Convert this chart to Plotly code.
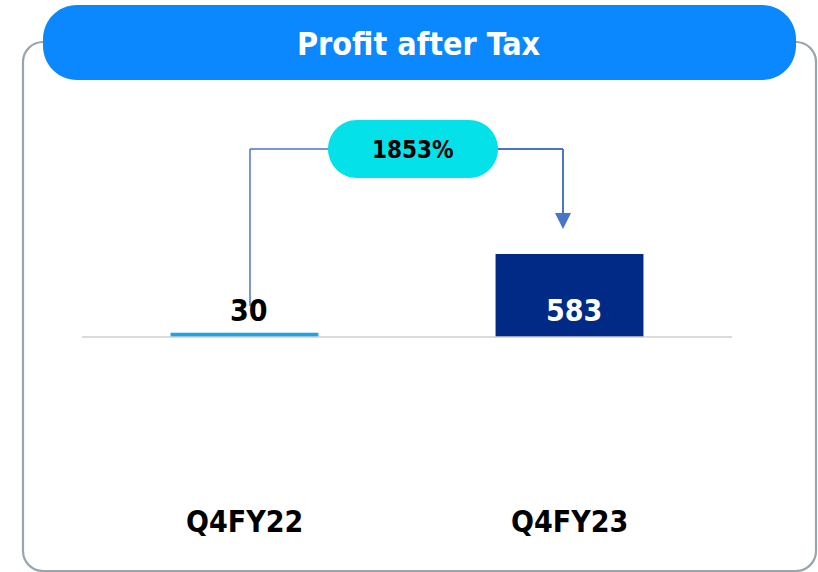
import plotly.graph_objects as go

# ---- data ----
categories = ["Q4FY22", "Q4FY23"]
values = [30, 583]
value_labels = ["30", "583"]
growth_label = "1853%"
title_text = "Profit after Tax"

W, H = 818, 572
FONT = "DejaVu Sans Condensed, Liberation Sans, Arial, sans-serif"
K = 0.5523

def px(x):
    return x / W

def py(y):
    return 1 - y / H

def P(a, b):
    return f"{px(a):.5f},{py(b):.5f}"

def rrect(x0, y0, x1, y1, rx, ry):
    kx, ky = K * rx, K * ry
    s = f"M {P(x0 + rx, y0)} L {P(x1 - rx, y0)} "
    s += f"C {P(x1 - rx + kx, y0)} {P(x1, y0 + ry - ky)} {P(x1, y0 + ry)} "
    s += f"L {P(x1, y1 - ry)} "
    s += f"C {P(x1, y1 - ry + ky)} {P(x1 - rx + kx, y1)} {P(x1 - rx, y1)} "
    s += f"L {P(x0 + rx, y1)} "
    s += f"C {P(x0 + rx - kx, y1)} {P(x0, y1 - ry + ky)} {P(x0, y1 - ry)} "
    s += f"L {P(x0, y0 + ry)} "
    s += f"C {P(x0, y0 + ry - ky)} {P(x0 + rx - kx, y0)} {P(x0 + rx, y0)} Z"
    return s

# vertical scale: baseline at pixel 337
baseline_px = 337
units_per_px = 7.024
y_range = [-(H - baseline_px) * units_per_px, baseline_px * units_per_px]

fig = go.Figure()
fig.add_trace(go.Bar(
    x=categories,
    y=values,
    marker=dict(color=["#18a7e4", "#002a85"], line=dict(width=0)),
    width=0.455,
    hoverinfo="skip",
))

shapes = []
# outer rounded border
shapes.append(dict(type="path", xref="paper", yref="paper",
                   path=rrect(23, 42, 816, 571, 20, 20),
                   line=dict(color="#97a6ad", width=2.2), fillcolor="rgba(0,0,0,0)"))
# title pill
shapes.append(dict(type="path", xref="paper", yref="paper",
                   path=rrect(43, 5, 796, 80, 34, 34),
                   line=dict(width=0), fillcolor="#0b88fd"))
# baseline
shapes.append(dict(type="line", xref="paper", yref="y", x0=px(82), x1=px(732), y0=0, y1=0,
                   line=dict(color="#cfcfcf", width=1.5)))
# growth connector
lc = "#4a74c9"
shapes.append(dict(type="line", xref="paper", yref="paper", x0=px(250), x1=px(250),
                   y0=py(306), y1=py(149), line=dict(color=lc, width=1.5)))
shapes.append(dict(type="line", xref="paper", yref="paper", x0=px(250), x1=px(332),
                   y0=py(149), y1=py(149), line=dict(color=lc, width=1.5)))
shapes.append(dict(type="line", xref="paper", yref="paper", x0=px(494), x1=px(563),
                   y0=py(149), y1=py(149), line=dict(color=lc, width=2)))
shapes.append(dict(type="line", xref="paper", yref="paper", x0=px(563), x1=px(563),
                   y0=py(149), y1=py(214), line=dict(color=lc, width=2)))
shapes.append(dict(type="path", xref="paper", yref="paper",
                   path=f"M {P(555, 213)} L {P(571, 213)} L {P(563, 229)} Z",
                   line=dict(width=0), fillcolor=lc))
# growth pill
shapes.append(dict(type="path", xref="paper", yref="paper",
                   path=rrect(328, 120, 498, 178, 29, 29),
                   line=dict(width=0), fillcolor="#05e1e9"))

def ann(text, x, y, size, color, xref="paper", xshift=0):
    return dict(text=f"<b>{text}</b>", xref=xref, yref="paper", x=x, y=y,
                xanchor="center", yanchor="middle", showarrow=False, xshift=xshift,
                font=dict(family=FONT, size=size, color=color))

annotations = [
    ann(title_text, px(419), py(44), 32, "white"),
    ann(growth_label, px(413), py(150), 24, "black"),
    ann(value_labels[0], categories[0], py(310), 30, "black", xref="x", xshift=4),
    ann(value_labels[1], categories[1], py(310), 30, "white", xref="x", xshift=4),
]
for c in categories:
    annotations.append(ann(c, c, py(521), 30, "black", xref="x"))

fig.update_layout(
    width=W, height=H,
    margin=dict(l=0, r=0, t=0, b=0),
    paper_bgcolor="white", plot_bgcolor="white",
    showlegend=False,
    xaxis=dict(domain=[px(82), px(732)], range=[-0.5, 1.5], showticklabels=False,
               showgrid=False, zeroline=False, showline=False, fixedrange=True),
    yaxis=dict(domain=[0, 1], range=y_range, showticklabels=False, showgrid=False,
               zeroline=False, showline=False, fixedrange=True),
    shapes=shapes,
    annotations=annotations,
)

fig.write_html("out.html", config={"displayModeBar": False},
               post_script="document.body.style.margin='0';document.body.style.overflow='hidden';")
